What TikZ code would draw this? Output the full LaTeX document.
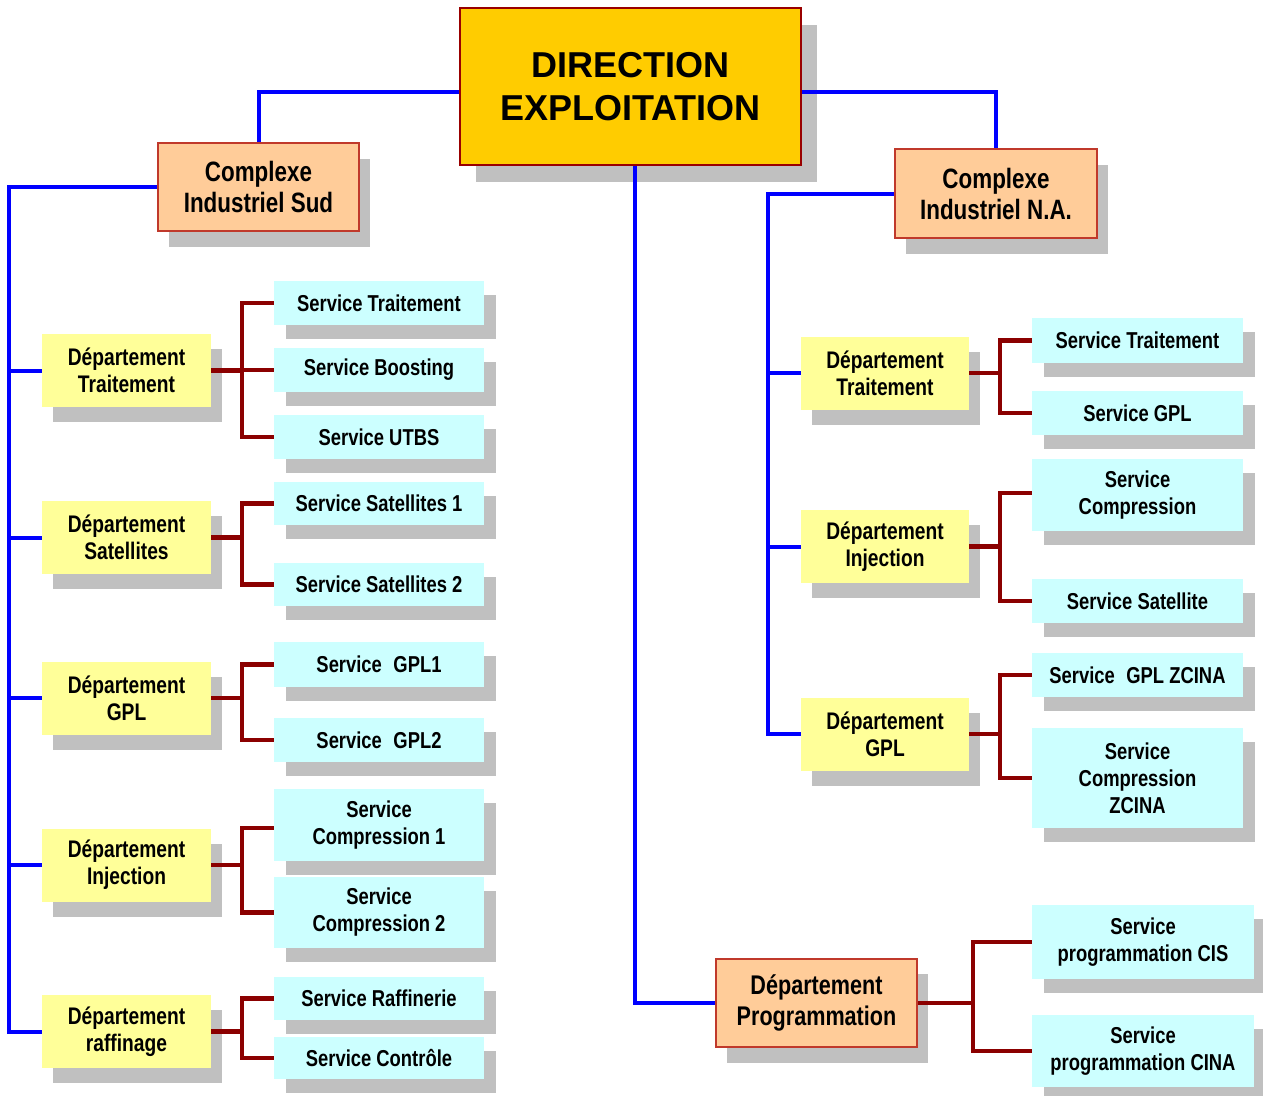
\documentclass[tikz,border=0pt]{standalone}
\usepackage{fontspec}
\setmainfont{Liberation Sans}
\newfontfamily\nbf{Liberation Sans}[FakeStretch=0.8]
\usetikzlibrary{shadows}
\definecolor{blueline}{HTML}{0000FF}
\definecolor{redline}{HTML}{8B0000}
\definecolor{dirfill}{HTML}{FFCC00}
\definecolor{dirdraw}{HTML}{990000}
\definecolor{cplxfill}{HTML}{FFCC99}
\definecolor{cplxdraw}{HTML}{C0392B}
\definecolor{deptfill}{HTML}{FFFF99}
\definecolor{servfill}{HTML}{CCFFFF}
\definecolor{shd}{HTML}{C0C0C0}
\begin{document}
\begin{tikzpicture}[x=1pt,y=-1pt,
  box/.style={rectangle, inner sep=0pt, align=center, text=black},
  dirbox/.style={box, fill=dirfill, draw=dirdraw, line width=2pt,
    minimum width=341pt, minimum height=157pt,
    font=\fontsize{36}{43}\selectfont\bfseries,
    drop shadow={shadow xshift=16pt, shadow yshift=-17pt, fill=shd, opacity=1}},
  cplxbox/.style={box, fill=cplxfill, draw=cplxdraw, line width=2pt,
    minimum width=201pt, minimum height=88pt,
    font=\nbf\bfseries\fontsize{28}{31}\selectfont,
    drop shadow={shadow xshift=11pt, shadow yshift=-16pt, fill=shd, opacity=1}},
  progbox/.style={cplxbox, font=\nbf\bfseries\fontsize{27}{31}\selectfont,
    drop shadow={shadow xshift=11pt, shadow yshift=-15pt, fill=shd, opacity=1}},
  deptbox/.style={box, fill=deptfill, minimum width=169pt, minimum height=73pt,
    font=\nbf\bfseries\fontsize{24}{27}\selectfont,
    drop shadow={shadow xshift=11pt, shadow yshift=-15pt, fill=shd, opacity=1}},
  servbox/.style={box, fill=servfill, minimum width=210pt, minimum height=44pt,
    font=\nbf\bfseries\fontsize{23}{27}\selectfont,
    drop shadow={shadow xshift=12pt, shadow yshift=-14pt, fill=shd, opacity=1}},
  bluecon/.style={draw=blueline, line width=4pt},
  redcon/.style={draw=redline, line width=4.5pt}
]
\useasboundingbox (0,0) rectangle (1263,1095);

% top level
\node[dirbox] (dir) at (630.5,86.5) {DIRECTION\\EXPLOITATION};
\node[cplxbox] (cs) at (258.5,186.5) {Complexe\\Industriel Sud};
\node[cplxbox, minimum width=202pt, minimum height=89pt] (cna) at (996,193.5) {Complexe\\Industriel N.A.};
\node[progbox] (prog) at (816.5,1003) {Département\\Programmation};

% left departments
\node[deptbox] (lt) at (126.5,370.5) {Département\\Traitement};
\node[deptbox] (ls) at (126.5,537.5) {Département\\Satellites};
\node[deptbox] (lg) at (126.5,698) {Département\\GPL};
\node[deptbox] (li) at (126.5,865) {Département\\Injection};
\node[deptbox] (lr) at (126.5,1031.5) {Département\\raffinage};

% left services
\node[servbox] (lt1) at (379,303) {Service Traitement};
\node[servbox] (lt2) at (379,370) {Service Boosting};
\node[servbox] (lt3) at (379,437) {Service UTBS};
\node[servbox, minimum height=43pt] (ls1) at (379,503.5) {Service Satellites 1};
\node[servbox, minimum height=43pt] (ls2) at (379,584.5) {Service Satellites 2};
\node[servbox, minimum height=45pt] (lg1) at (379,664.5) {Service\enspace GPL1};
\node[servbox] (lg2) at (379,740) {Service\enspace GPL2};
\node[servbox, minimum height=72pt] (li1) at (379,825) {Service\\Compression 1};
\node[servbox, minimum height=71pt] (li2) at (379,912.5) {Service\\Compression 2};
\node[servbox, minimum height=43pt] (lr1) at (379,998.5) {Service Raffinerie};
\node[servbox, minimum height=42pt] (lr2) at (379,1058) {Service Contrôle};

% right departments
\node[deptbox, minimum width=168pt] (rt) at (885,373) {Département\\Traitement};
\node[deptbox, minimum width=168pt] (ri) at (885,546.5) {Département\\Injection};
\node[deptbox, minimum width=168pt] (rg) at (885,734) {Département\\GPL};

% right services
\node[servbox, minimum width=211pt, minimum height=45pt] (rt1) at (1137.5,340.5) {Service Traitement};
\node[servbox, minimum width=211pt] (rt2) at (1137.5,413) {Service GPL};
\node[servbox, minimum width=211pt, minimum height=72pt] (ri1) at (1137.5,495) {Service\\Compression};
\node[servbox, minimum width=211pt] (ri2) at (1137.5,601) {Service Satellite};
\node[servbox, minimum width=211pt] (rg1) at (1137.5,675) {Service\enspace GPL ZCINA};
\node[servbox, minimum width=211pt, minimum height=100pt] (rg2) at (1137.5,778) {Service\\Compression\\ZCINA};
\node[servbox, minimum width=222pt, minimum height=74pt] (p1) at (1143,942) {Service\\programmation CIS};
\node[servbox, minimum width=222pt, minimum height=72pt] (p2) at (1143,1051) {Service\\programmation CINA};

% bus coordinates
\coordinate (busL) at (9,0);
\coordinate (busR) at (768,0);
\coordinate (jL) at (242,0);
\coordinate (jR) at (1000,0);
\coordinate (jP) at (973,0);

% blue connectors
\draw[bluecon] ([yshift=-5.5pt]dir.west) -| (cs.north);
\draw[bluecon] ([yshift=-5.5pt]dir.east) -| (cna.north);
\draw[bluecon] ([xshift=4.5pt]dir.south) |- (prog.west);
\draw[bluecon] (cs.west) -| (busL |- lr.west) -- (lr.west);
\draw[bluecon] (busL |- lt.west) -- (lt.west);
\draw[bluecon] (busL |- ls.west) -- (ls.west);
\draw[bluecon] (busL |- lg.west) -- (lg.west);
\draw[bluecon] (busL |- li.west) -- (li.west);
\draw[bluecon] (cna.west) -| (busR |- rg.west) -- (rg.west);
\draw[bluecon] (busR |- rt.west) -- (rt.west);
\draw[bluecon] (busR |- ri.west) -- (ri.west);

% red connectors left
\draw[redcon] (lt.east) -- (lt.east -| jL);
\draw[redcon] (lt1.west) -| (jL |- lt3.west) -- (lt3.west);
\draw[redcon] (lt2.west) -- (lt2.west -| jL);
\draw[redcon] (ls.east) -- (ls.east -| jL);
\draw[redcon] (ls1.west) -| (jL |- ls2.west) -- (ls2.west);
\draw[redcon] (lg.east) -- (lg.east -| jL);
\draw[redcon] (lg1.west) -| (jL |- lg2.west) -- (lg2.west);
\draw[redcon] (li.east) -- (li.east -| jL);
\draw[redcon] ([yshift=-3pt]li1.west) -| (jL |- li2.west) -- (li2.west);
\draw[redcon] (lr.east) -- (lr.east -| jL);
\draw[redcon] (lr1.west) -| (jL |- lr2.west) -- (lr2.west);

% red connectors right
\draw[redcon] (rt.east) -- (rt.east -| jR);
\draw[redcon] (rt1.west) -| (jR |- rt2.west) -- (rt2.west);
\draw[redcon] (ri.east) -- (ri.east -| jR);
\draw[redcon] ([yshift=2pt]ri1.west) -| (jR |- ri2.west) -- (ri2.west);
\draw[redcon] (rg.east) -- (rg.east -| jR);
\draw[redcon] (rg1.west) -| (jR |- rg2.west) -- (rg2.west);
\draw[redcon] (prog.east) -- (prog.east -| jP);
\draw[redcon] (p1.west) -| (jP |- p2.west) -- (p2.west);
\end{tikzpicture}
\end{document}
